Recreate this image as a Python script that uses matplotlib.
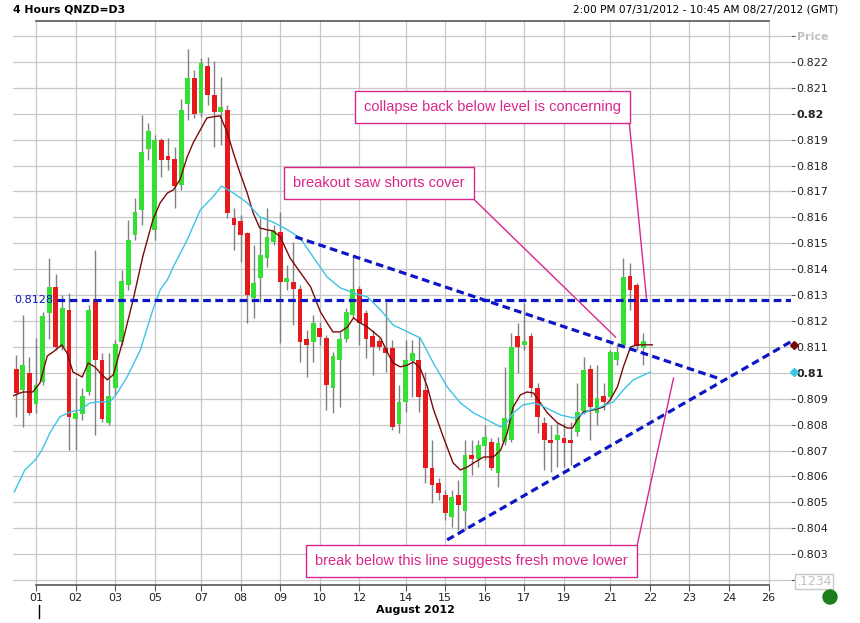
import numpy as np
import matplotlib
matplotlib.use("Agg")
import matplotlib.pyplot as plt
from matplotlib.patches import Ellipse
from matplotlib.lines import Line2D

# 4-hour candles, bar index 0 = 07/31 14:00
opens = [0.81015, 0.80934, 0.81000, 0.80880, 0.80965, 0.81231, 0.81332, 0.81100, 0.81243, 0.80822,
         0.80841, 0.80926, 0.81285, 0.81050, 0.80807, 0.80942, 0.81119, 0.81339, 0.81532, 0.81629,
         0.81864, 0.81552, 0.81899, 0.81837, 0.81826, 0.81725, 0.82038, 0.82138, 0.82003, 0.82185,
         0.82073, 0.82007, 0.82015, 0.81598, 0.81586, 0.81540, 0.81289, 0.81366, 0.81443, 0.81505,
         0.81544, 0.81351, 0.81351, 0.81324, 0.81131, 0.81119, 0.81173, 0.81135, 0.80942, 0.81050,
         0.81131, 0.81223, 0.81324, 0.81231, 0.81142, 0.81123, 0.81096, 0.81096, 0.80803, 0.80888,
         0.81046, 0.81050, 0.80934, 0.80633, 0.80575, 0.80529, 0.80444, 0.80529, 0.80467, 0.80683,
         0.80668, 0.80718, 0.80733, 0.80614, 0.80733, 0.80741, 0.81142, 0.81108, 0.81142, 0.80942,
         0.80807, 0.80741, 0.80741, 0.80749, 0.80741, 0.80772, 0.80853, 0.81016, 0.80845, 0.80911,
         0.80907, 0.81050, 0.81108, 0.81374, 0.81339, 0.81096]
highs = [0.81069, 0.81223, 0.81061, 0.81135, 0.81235, 0.81443, 0.81382, 0.81301, 0.81308, 0.80980,
         0.80942, 0.81262, 0.81474, 0.81077, 0.81077, 0.81127, 0.81397, 0.81590, 0.81675, 0.81995,
         0.81965, 0.81918, 0.81907, 0.81907, 0.81872, 0.82057, 0.82250, 0.82169, 0.82215, 0.82219,
         0.82204, 0.82142, 0.82034, 0.81636, 0.81609, 0.81544, 0.81494, 0.81598, 0.81636, 0.81571,
         0.81621, 0.81416, 0.81505, 0.81339, 0.81166, 0.81223, 0.81196, 0.81146, 0.81081, 0.81158,
         0.81250, 0.81447, 0.81335, 0.81243, 0.81166, 0.81135, 0.81274, 0.81127, 0.80953, 0.81127,
         0.81127, 0.81139, 0.81003, 0.80741, 0.80594, 0.80548, 0.80548, 0.80587, 0.80741, 0.80741,
         0.80741, 0.80799, 0.80749, 0.80752, 0.81023, 0.81154, 0.81193, 0.81270, 0.81154, 0.80961,
         0.80830, 0.80799, 0.80807, 0.80807, 0.80810, 0.80961, 0.81061, 0.81030, 0.81030, 0.80961,
         0.81088, 0.81108, 0.81443, 0.81424, 0.81347, 0.81154]
lows = [0.80830, 0.80791, 0.80837, 0.80845, 0.80953, 0.81131, 0.81088, 0.81088, 0.80702, 0.80702,
        0.80818, 0.80915, 0.80760, 0.80810, 0.80799, 0.80915, 0.81108, 0.81320, 0.81513, 0.81571,
        0.81822, 0.81513, 0.81756, 0.81783, 0.81636, 0.81706, 0.81976, 0.81984, 0.81988, 0.82034,
        0.81872, 0.81880, 0.81598, 0.81474, 0.81428, 0.81193, 0.81212, 0.81274, 0.81409, 0.81494,
        0.81115, 0.81320, 0.81185, 0.81042, 0.80984, 0.81042, 0.81108, 0.80857, 0.80845, 0.80868,
        0.81119, 0.81212, 0.81108, 0.81057, 0.80992, 0.81088, 0.81003, 0.80780, 0.80768, 0.80849,
        0.80907, 0.80849, 0.80575, 0.80498, 0.80509, 0.80432, 0.80405, 0.80394, 0.80394, 0.80606,
        0.80637, 0.80664, 0.80625, 0.80560, 0.80722, 0.80733, 0.81000, 0.81088, 0.80907, 0.80768,
        0.80625, 0.80617, 0.80637, 0.80637, 0.80644, 0.80756, 0.80841, 0.80741, 0.80799, 0.80857,
        0.80895, 0.81030, 0.81100, 0.81243, 0.81088, 0.81030]
closes = [0.80922, 0.81030, 0.80845, 0.80953, 0.81220, 0.81332, 0.81100, 0.81250, 0.80830, 0.80845,
          0.80911, 0.81243, 0.81050, 0.80822, 0.80911, 0.81111, 0.81355, 0.81513, 0.81621, 0.81853,
          0.81934, 0.81899, 0.81822, 0.81822, 0.81721, 0.82015, 0.82138, 0.81999, 0.82196, 0.82073,
          0.82007, 0.82026, 0.81617, 0.81571, 0.81532, 0.81301, 0.81347, 0.81455, 0.81525, 0.81548,
          0.81351, 0.81366, 0.81324, 0.81119, 0.81108, 0.81193, 0.81139, 0.80953, 0.81065, 0.81131,
          0.81235, 0.81324, 0.81193, 0.81131, 0.81100, 0.81100, 0.81077, 0.80791, 0.80888, 0.81050,
          0.81077, 0.80907, 0.80633, 0.80567, 0.80536, 0.80459, 0.80521, 0.80490, 0.80683, 0.80668,
          0.80722, 0.80753, 0.80633, 0.80729, 0.80826, 0.81100, 0.81100, 0.81123, 0.80942, 0.80830,
          0.80741, 0.80729, 0.80760, 0.80729, 0.80729, 0.80849, 0.81011, 0.80868, 0.80903, 0.80888,
          0.81081, 0.81081, 0.81370, 0.81320, 0.81104, 0.81123]

# moving averages (bar position, price)
fast_ma_x = [-0.5, 1.0, 2.5, 3.6, 4.7, 5.6, 6.9, 7.7, 8.6, 10.0, 10.9, 11.9, 12.7, 13.8, 14.7,
             16.2, 17.7, 19.2, 20.7, 21.8, 22.9, 23.8, 24.8, 25.9, 26.8, 27.9, 28.9, 29.8, 30.9,
             32.0, 32.9, 33.9, 35.0, 35.9, 36.9, 38.0, 38.9, 40.0, 41.5, 43.0, 44.6, 46.1, 47.1,
             48.0, 49.1, 50.2, 51.1, 52.1, 53.2, 54.1, 55.2, 56.2, 57.1, 58.2, 59.3, 60.2, 61.2,
             62.3, 63.2, 64.7, 66.2, 67.3, 68.4, 69.3, 70.8, 72.3, 73.4, 74.4, 75.3, 76.4, 77.4,
             78.4, 79.4, 80.5, 82.0, 83.5, 84.3, 85.0, 85.9, 87.5, 89.0, 90.0, 91.1, 92.0, 93.1,
             94.1, 95.6, 96.4]
fast_ma = [0.80911, 0.80926, 0.80926, 0.80961, 0.81065, 0.81081, 0.81108, 0.81077, 0.81003, 0.80984,
           0.81038, 0.81023, 0.81000, 0.80973, 0.80992, 0.81127, 0.81281, 0.81451, 0.81590, 0.81656,
           0.81694, 0.81706, 0.81745, 0.81833, 0.81887, 0.81938, 0.81984, 0.81988, 0.81992, 0.81926,
           0.81849, 0.81772, 0.81694, 0.81617, 0.81559, 0.81552, 0.81548, 0.81525, 0.81443, 0.81389,
           0.81332, 0.81235, 0.81193, 0.81158, 0.81158, 0.81177, 0.81212, 0.81193, 0.81177, 0.81158,
           0.81135, 0.81081, 0.81038, 0.81023, 0.81030, 0.81042, 0.81019, 0.80946, 0.80861, 0.80753,
           0.80652, 0.80625, 0.80637, 0.80652, 0.80675, 0.80675, 0.80702, 0.80768, 0.80868, 0.80915,
           0.80926, 0.80922, 0.80884, 0.80845, 0.80807, 0.80787, 0.80787, 0.80818, 0.80849, 0.80857,
           0.80868, 0.80895, 0.80946, 0.81023, 0.81100, 0.81108, 0.81108, 0.81108]
slow_ma_x = [-0.3, 1.3, 2.9, 3.9, 5.1, 6.6, 8.2, 9.7, 11.2, 12.7, 14.2, 15.3, 16.8, 18.8, 20.7,
             21.8, 22.9, 23.8, 25.9, 27.9, 29.8, 31.1, 32.9, 35.0, 36.9, 38.9, 41.1, 43.0, 45.0,
             47.1, 49.1, 51.1, 53.2, 55.2, 57.1, 59.3, 61.2, 63.2, 65.3, 67.3, 69.3, 71.4, 73.4,
             74.4, 75.3, 76.8, 78.4, 79.4, 80.9, 82.5, 84.4, 85.5, 87.0, 88.5, 90.5, 92.0, 93.5, 96.1]
slow_ma = [0.80540, 0.80625, 0.80664, 0.80702, 0.80768, 0.80830, 0.80849, 0.80857, 0.80884, 0.80888,
           0.80888, 0.80922, 0.80984, 0.81088, 0.81243, 0.81320, 0.81359, 0.81409, 0.81513, 0.81629,
           0.81679, 0.81721, 0.81694, 0.81656, 0.81602, 0.81582, 0.81552, 0.81521, 0.81447, 0.81370,
           0.81328, 0.81308, 0.81293, 0.81243, 0.81185, 0.81158, 0.81135, 0.81038, 0.80946, 0.80884,
           0.80845, 0.80818, 0.80791, 0.80810, 0.80845, 0.80876, 0.80884, 0.80876, 0.80857, 0.80837,
           0.80826, 0.80837, 0.80857, 0.80868, 0.80888, 0.80934, 0.80973, 0.81003]

# hand drawn lines
level = 0.8128
upper_line_x = [42.3, 106.7]
upper_line_y = [0.81525, 0.80976]
lower_line_x = [65.3, 117.3]
lower_line_y = [0.80355, 0.81119]

date_pos = [3, 9, 15, 21, 28, 34, 40, 46, 52, 59, 65, 71, 77, 83, 90, 96, 102, 108, 114]
date_labels = ["01", "02", "03", "05", "07", "08", "09", "10", "12", "14", "15", "16", "17",
               "19", "21", "22", "23", "24", "26"]
price_ticks = [0.802, 0.803, 0.804, 0.805, 0.806, 0.807, 0.808, 0.809, 0.810, 0.811, 0.812,
               0.813, 0.814, 0.815, 0.816, 0.817, 0.818, 0.819, 0.820, 0.821, 0.822, 0.823]
price_labels = [".1234", "0.803", "0.804", "0.805", "0.806", "0.807", "0.808", "0.809", "0.81",
                "0.811", "0.812", "0.813", "0.814", "0.815", "0.816", "0.817", "0.818", "0.819",
                "0.82", "0.821", "0.822", "Price"]

notes = ["collapse back below level is concerning", "breakout saw shorts cover",
         "break below this line suggests fresh move lower"]
note_xy = [(72.2, 0.82026), (55.0, 0.81731), (69.0, 0.80274)]
note_lines = [((92.9, 0.81964), (95.5, 0.81289)),
              ((69.3, 0.81671), (90.8, 0.81138)),
              ((94.0, 0.80324), (99.6, 0.80980))]

GREEN = '#33e033'
RED = '#e8191c'
BLUE = '#0b16c4'
PINK = '#d9268c'
GRID = '#c8c8c8'

fig = plt.figure(figsize=(8.6, 6.23), dpi=100)
ax = fig.add_axes([13 / 860, 1 - 585 / 623, (791 - 13) / 860, (585 - 21) / 623])
xmin, xmax = -0.49, 117.4
ymin, ymax = 0.80181, 0.82358
ax.set_xlim(xmin, xmax)
ax.set_ylim(ymin, ymax)
for s in ax.spines.values():
    s.set_visible(False)

# grid
for p in price_ticks:
    ax.axhline(p, color=GRID, lw=0.9, zorder=0)
ax.vlines(date_pos, ymin, ymax, color=GRID, lw=0.9, zorder=0)
ax.plot([date_pos[0], date_pos[-1]], [ymax, ymax], color='#555555', lw=1.2, clip_on=False, zorder=1)
ax.plot([date_pos[0], date_pos[-1]], [ymin, ymin], color='#555555', lw=1.2, clip_on=False, zorder=1)

# candles
idx = np.arange(len(opens))
o = np.array(opens)
c = np.array(closes)
up = c >= o
ax.vlines(idx, lows, highs, color='#808080', lw=1, zorder=2)
body = np.maximum(np.abs(c - o), 0.00005)
ax.bar(idx, body, bottom=np.minimum(o, c), width=0.72,
       color=np.where(up, GREEN, RED), linewidth=0, zorder=3)

# averages
ax.plot(fast_ma_x, fast_ma, color='#7a0a0a', lw=1, zorder=4)
ax.plot(slow_ma_x, slow_ma, color='#3cc4e4', lw=1, zorder=4)
ax.plot([xmax + 0.4], [fast_ma[-1]], marker='D', ms=4, color='#7a0a0a', clip_on=False, zorder=6)
ax.plot([xmax + 0.4], [slow_ma[-1]], marker='D', ms=4, color='#3cc4e4', clip_on=False, zorder=6)

# level and trend lines
dash = (0, (2.4, 1.4))
ax.plot([6.2, xmax], [level, level], color=BLUE, lw=2.3, ls=dash, zorder=5)
ax.text(xmin + 0.2, level, "0.8128", color=BLUE, fontsize=8, va='center', ha='left', zorder=5)
ax.plot(upper_line_x, upper_line_y, color=BLUE, lw=2.3, ls=dash, zorder=5)
ax.plot(lower_line_x, lower_line_y, color=BLUE, lw=2.3, ls=dash, zorder=5, clip_on=False)

# notes
for txt, (nx, ny), (a, b) in zip(notes, note_xy, note_lines):
    ax.text(nx, ny, txt, color=PINK, fontsize=10.5, family='Liberation Sans',
            ha='center', va='center', zorder=7,
            bbox=dict(boxstyle='square,pad=0.62', fc='white', ec=PINK, lw=1))
    ax.plot([a[0], b[0]], [a[1], b[1]], color=PINK, lw=1, zorder=6)

# axes ticks
ax.set_xticks(date_pos)
ax.set_xticklabels(date_labels)
ax.tick_params(axis='x', length=4, color='#555555', labelsize=8, pad=2, labelcolor='#222222')
ax.yaxis.tick_right()
ax.set_yticks(price_ticks)
ax.set_yticklabels(price_labels)
ax.tick_params(axis='y', length=3, color='#555555', labelsize=8, pad=1, labelcolor='#222222')
for lab in ax.get_yticklabels():
    t = lab.get_text()
    if t in ("0.81", "0.82"):
        lab.set_fontweight('bold')
    elif t == "Price":
        lab.set_color('#c0c0c0')
        lab.set_fontweight('bold')
    elif t == ".1234":
        lab.set_color('#c0c0c0')
        lab.set_fontsize(9)
        lab.set_bbox(dict(boxstyle='square,pad=0.1', fc='white', ec='#c8c8c8', lw=1))

fig.text(415 / 860, 1 - 610 / 623, "August 2012", fontsize=8, fontweight='bold',
         ha='center', va='center')
fig.text(13 / 860, 1 - 9 / 623, "4 Hours QNZD=D3", fontsize=7.8, fontweight='bold',
         ha='left', va='center')
fig.text(838 / 860, 1 - 10 / 623, "2:00 PM 07/31/2012 - 10:45 AM 08/27/2012 (GMT)",
         fontsize=7.6, ha='right', va='center')
fig.add_artist(Line2D([39 / 860, 39 / 860], [1 - 605 / 623, 1 - 618 / 623], color='black', lw=1))
fig.add_artist(Ellipse((830 / 860, 1 - 597 / 623), 14 / 860, 14 / 623, color='#1b7d1b'))

fig.savefig("out.png", dpi=100)
